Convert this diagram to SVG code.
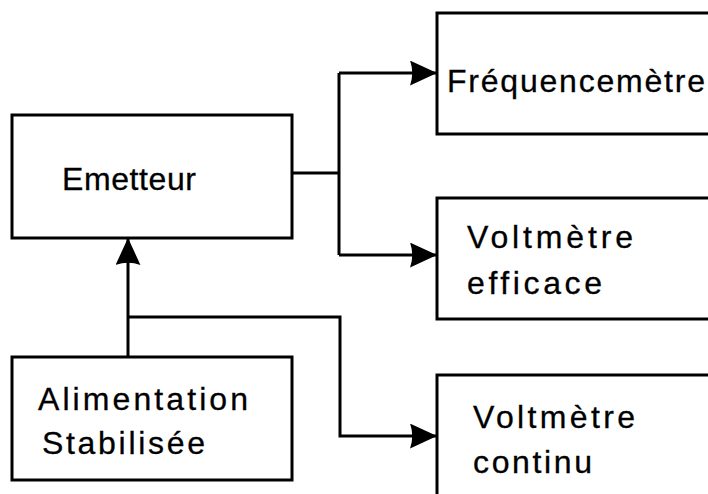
<svg xmlns="http://www.w3.org/2000/svg" width="708" height="494" viewBox="0 0 708 494">
<style>
.box{fill:none;stroke:#000;stroke-width:3}
.ln{fill:none;stroke:#000;stroke-width:3}
.t{font-family:"Liberation Sans",Arial,Helvetica,sans-serif;font-size:32px;fill:#000;stroke:#000;stroke-width:0.3}
</style>
<defs>
<marker id="ah" markerUnits="userSpaceOnUse" markerWidth="27" markerHeight="25" viewBox="0 0 25 23" refX="24" refY="11.5" orient="auto">
<path d="M0,0 L25,11.5 L0,23 Q4,11.5 0,0 Z" fill="#000"/>
</marker>
</defs>
<rect width="708" height="494" fill="#fff"/>
<g id="connectors">
<path class="ln" d="M292,173 H339 M339,73 V255"/>
<path class="ln" d="M339,73 H436" marker-end="url(#ah)"/>
<path class="ln" d="M339,255 H436" marker-end="url(#ah)"/>
<path class="ln" d="M128,357 V239" stroke-width="4" marker-end="url(#ah)"/>
<path class="ln" d="M128,317 H340 V436 H436" marker-end="url(#ah)"/>
</g>
<g id="emetteur">
<rect class="box" x="12" y="115" width="280" height="123"/>
<text class="t" x="62" y="190" textLength="134" lengthAdjust="spacing">Emetteur</text>
</g>
<g id="alimentation">
<rect class="box" x="12" y="357" width="280" height="123"/>
<text class="t" x="38" y="410" textLength="210" lengthAdjust="spacing">Alimentation</text>
<text class="t" x="42" y="454" textLength="163" lengthAdjust="spacing">Stabilisée</text>
</g>
<g id="frequencemetre">
<rect class="box" x="437" y="13" width="290" height="121"/>
<text class="t" x="447" y="92" textLength="258" lengthAdjust="spacing">Fréquencemètre</text>
</g>
<g id="voltmetre-efficace">
<rect class="box" x="437" y="198" width="290" height="121"/>
<text class="t" x="467" y="248" textLength="166" lengthAdjust="spacing">Voltmètre</text>
<text class="t" x="467" y="294" textLength="135" lengthAdjust="spacing">efficace</text>
</g>
<g id="voltmetre-continu">
<rect class="box" x="437" y="375" width="290" height="140"/>
<text class="t" x="473" y="428" textLength="162" lengthAdjust="spacing">Voltmètre</text>
<text class="t" x="473" y="473" textLength="119" lengthAdjust="spacing">continu</text>
</g>
</svg>
